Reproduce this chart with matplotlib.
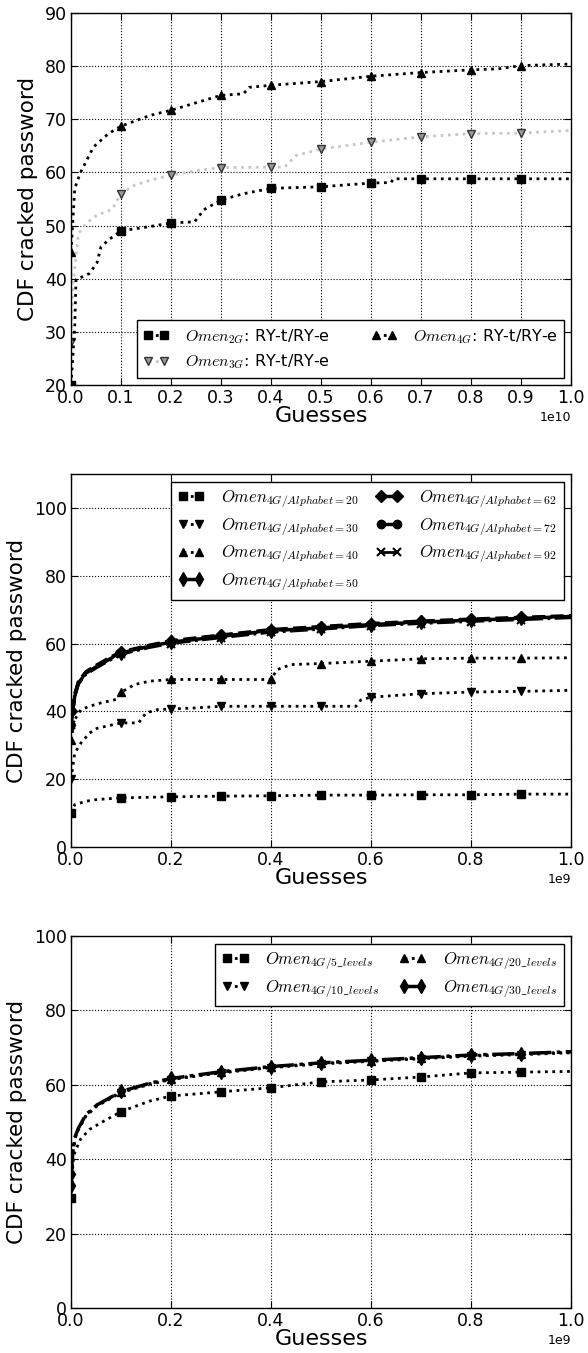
import numpy as np
import matplotlib
matplotlib.use("Agg")
import matplotlib.pyplot as plt

plt.rcParams['mathtext.fontset'] = 'cm'
plt.rcParams['font.family'] = ['DejaVu Sans']

# ---------------- Panel 1 (x in units of 1e10 guesses) ----------------
p1_x_2g = [0, 0.0075, 0.01, 0.037, 0.052, 0.06, 0.075, 0.1, 0.157, 0.2, 0.247, 0.266, 0.3, 0.345, 0.4, 0.5, 0.6, 0.64, 0.645, 0.7, 0.8, 0.9, 1.0]
p1_y_2g = [20, 31, 39.8, 41, 43, 46, 47.3, 49, 49.8, 50.5, 50.7, 53, 54.8, 56, 57, 57.3, 58, 58.1, 58.8, 58.8, 58.8, 58.8, 58.8]
p1_x_3g = [0, 0.004, 0.015, 0.03, 0.052, 0.082, 0.1, 0.127, 0.157, 0.2, 0.255, 0.3, 0.4, 0.427, 0.45, 0.5, 0.6, 0.7, 0.8, 0.9, 1.0]
p1_y_3g = [28, 39, 48.5, 50.4, 52, 53, 56, 57.6, 58.5, 59.5, 60.4, 60.9, 61, 61, 63.2, 64.4, 65.7, 66.7, 67.3, 67.4, 67.9]
p1_x_4g = [0, 0.0075, 0.019, 0.045, 0.075, 0.1, 0.157, 0.2, 0.3, 0.345, 0.356, 0.4, 0.5, 0.6, 0.7, 0.8, 0.855, 0.9, 1.0]
p1_y_4g = [45, 57, 60, 64.8, 67.3, 68.7, 70.7, 71.7, 74.5, 74.8, 76, 76.4, 77.1, 78.1, 78.8, 79.3, 79.5, 80.1, 80.4]
p1_labels = [r'$Omen_{2G}$: RY-t/RY-e', r'$Omen_{3G}$: RY-t/RY-e', r'$Omen_{4G}$: RY-t/RY-e']

# ---------------- Panel 2 (x in units of 1e9 guesses) ----------------
p2_x_a20 = [0, 0.0075, 0.03, 0.052, 0.1, 0.2, 0.3, 0.4, 0.5, 0.6, 0.7, 0.8, 0.9, 1.0]
p2_y_a20 = [10, 12.5, 13.5, 14, 14.5, 14.8, 15, 15.1, 15.3, 15.3, 15.4, 15.4, 15.6, 15.6]
p2_x_a30 = [0, 0.0075, 0.02, 0.037, 0.052, 0.082, 0.1, 0.135, 0.15, 0.172, 0.2, 0.247, 0.3, 0.4, 0.5, 0.57, 0.58, 0.6, 0.7, 0.8, 0.9, 1.0]
p2_y_a30 = [20, 27.7, 30.7, 33.6, 35, 36, 36.6, 36.6, 39.5, 40.5, 40.7, 41, 41.5, 41.5, 41.5, 41.5, 43.4, 44.2, 45.2, 45.7, 45.9, 46.2]
p2_x_a40 = [0, 0.0075, 0.02, 0.037, 0.06, 0.09, 0.1, 0.127, 0.157, 0.2, 0.3, 0.4, 0.412, 0.44, 0.5, 0.6, 0.7, 0.8, 0.9, 1.0]
p2_y_a40 = [31.5, 37.6, 40.5, 41.5, 42.5, 43.5, 45.6, 47.9, 48.9, 49.4, 49.4, 49.4, 52.3, 53.8, 54.1, 54.8, 55.5, 55.7, 55.7, 55.8]
p2_x_big = [0, 0.004, 0.0075, 0.015, 0.03, 0.052, 0.082, 0.1, 0.157, 0.2, 0.3, 0.4, 0.5, 0.6, 0.7, 0.8, 0.9, 1.0]
p2_y_a50 = [36, 40.5, 44.5, 48.4, 51.3, 53.3, 55.8, 57.2, 59.2, 60.4, 62.1, 63.8, 64.6, 65.6, 66.3, 66.9, 67.4, 68.0]
p2_y_a62 = [40, 41.0, 45.0, 48.8, 51.7, 53.7, 56.2, 57.5, 59.5, 60.8, 62.5, 64.1, 65.0, 65.9, 66.6, 67.2, 67.7, 68.2]
p2_y_a72 = [40, 40.8, 44.8, 48.6, 51.5, 53.5, 56.0, 57.3, 59.3, 60.6, 62.3, 63.9, 64.8, 65.7, 66.4, 67.0, 67.5, 68.1]
p2_y_a92 = [36, 40.0, 44.0, 48.0, 50.9, 52.9, 55.4, 56.8, 58.8, 60.0, 61.7, 63.3, 64.2, 65.2, 65.9, 66.5, 67.0, 67.6]
p2_labels = [r'$Omen_{4G/Alphabet=20}$', r'$Omen_{4G/Alphabet=30}$', r'$Omen_{4G/Alphabet=40}$',
             r'$Omen_{4G/Alphabet=50}$', r'$Omen_{4G/Alphabet=62}$', r'$Omen_{4G/Alphabet=72}$',
             r'$Omen_{4G/Alphabet=92}$']

# ---------------- Panel 3 (x in units of 1e9 guesses) ----------------
p3_x_l5 = [0, 0.004, 0.0075, 0.019, 0.037, 0.06, 0.1, 0.157, 0.2, 0.3, 0.4, 0.5, 0.6, 0.7, 0.8, 0.9, 1.0]
p3_y_l5 = [29.5, 39, 41.8, 45.4, 48, 49.8, 52.8, 55.6, 57, 58.1, 59.2, 60.8, 61.3, 62.1, 63.2, 63.4, 63.6]
p3_x_big = [0, 0.004, 0.0075, 0.015, 0.03, 0.052, 0.075, 0.1, 0.157, 0.2, 0.3, 0.4, 0.5, 0.6, 0.7, 0.8, 0.9, 1.0]
p3_y_l10 = [32, 41.8, 45.4, 48, 51.6, 54.3, 56, 57.9, 60.1, 61.4, 63.2, 64.6, 65.6, 66.3, 67, 67.7, 68.1, 68.6]
p3_y_l20 = [34, 42.0, 45.6, 48.2, 51.8, 54.5, 56.2, 58.1, 60.3, 61.6, 63.4, 64.8, 65.8, 66.5, 67.2, 67.9, 68.3, 68.8]
p3_y_l30 = [36, 42.2, 45.8, 48.4, 52.0, 54.6, 56.3, 58.2, 60.4, 61.7, 63.5, 64.9, 65.9, 66.6, 67.3, 68.0, 68.4, 68.9]
p3_labels = [r'$Omen_{4G/5\_levels}$', r'$Omen_{4G/10\_levels}$', r'$Omen_{4G/20\_levels}$', r'$Omen_{4G/30\_levels}$']

MS = 6
LW = 2.0


def mark_idx(x):
    x = np.asarray(x)
    return [i for i, v in enumerate(x) if abs(v * 10 - round(v * 10)) < 1e-9 and v < 0.95]


def plot_series(ax, x, y, scale, **kw):
    ax.plot(np.asarray(x) * scale, y, markevery=mark_idx(x), **kw)


def style_axes(ax, xmax, ylim, yticks, xticks):
    ax.set_xlim(0, xmax)
    ax.set_ylim(*ylim)
    ax.set_yticks(yticks)
    ax.set_xticks(xticks)
    ax.grid(True, color='black', linestyle=':', linewidth=0.8)
    ax.tick_params(direction='in', top=True, right=True, length=5, labelsize=12.5, pad=3)
    ax.xaxis.get_offset_text().set_fontsize(9)
    ax.set_xlabel('Guesses', fontsize=16, labelpad=-1)
    ax.set_ylabel('CDF cracked password', fontsize=15.5, labelpad=5)
    for s in ax.spines.values():
        s.set_linewidth(1.0)


fig = plt.figure(figsize=(5.88, 13.53), dpi=100)
W = 500 / 588
L = 71 / 588
LEGKW = dict(numpoints=2, handlelength=1.6, fancybox=False, edgecolor='black', framealpha=1)

# Panel 1
ax1 = fig.add_axes([L, (1353 - 385) / 1353, W, 372 / 1353])
s1 = 1e10
plot_series(ax1, p1_x_3g, p1_y_3g, s1, color='0.78', linestyle=':', linewidth=LW, marker='v',
            markersize=MS, markerfacecolor='0.6', markeredgecolor='0.2', label=p1_labels[1])
plot_series(ax1, p1_x_2g, p1_y_2g, s1, color='black', linestyle=':', linewidth=LW, marker='s',
            markersize=MS, label=p1_labels[0])
plot_series(ax1, p1_x_4g, p1_y_4g, s1, color='black', linestyle=':', linewidth=LW, marker='^',
            markersize=MS, label=p1_labels[2])
style_axes(ax1, 1e10, (20, 90), np.arange(20, 91, 10), np.arange(0, 1.01e10, 0.1e10))
h, l = ax1.get_legend_handles_labels()
order = [1, 0, 2]
ax1.legend([h[i] for i in order], [l[i] for i in order], loc='lower right', ncol=2, fontsize=11.5,
           borderaxespad=0.45, columnspacing=2.6, handletextpad=1.0, labelspacing=0.45, **LEGKW)

# Panel 2
ax2 = fig.add_axes([L, (1353 - 847) / 1353, W, 373 / 1353])
s2 = 1e9
plot_series(ax2, p2_x_a20, p2_y_a20, s2, color='black', linestyle=':', linewidth=LW, marker='s', markersize=MS, label=p2_labels[0])
plot_series(ax2, p2_x_a30, p2_y_a30, s2, color='black', linestyle=':', linewidth=LW, marker='v', markersize=MS, label=p2_labels[1])
plot_series(ax2, p2_x_a40, p2_y_a40, s2, color='black', linestyle=':', linewidth=LW, marker='^', markersize=MS, label=p2_labels[2])
plot_series(ax2, p2_x_big, p2_y_a50, s2, color='black', linestyle='--', linewidth=2.5, marker='d', markersize=MS + 1, label=p2_labels[3])
plot_series(ax2, p2_x_big, p2_y_a62, s2, color='black', linestyle='--', linewidth=2.5, marker='D', markersize=MS, label=p2_labels[4])
plot_series(ax2, p2_x_big, p2_y_a72, s2, color='black', linestyle='--', linewidth=2.5, marker='o', markersize=MS, label=p2_labels[5])
plot_series(ax2, p2_x_big, p2_y_a92, s2, color='black', linestyle='-.', linewidth=2.0, marker='x', markersize=MS, markeredgewidth=1.5, label=p2_labels[6])
style_axes(ax2, 1e9, (0, 110), np.arange(0, 101, 20), np.arange(0, 1.01e9, 0.2e9))
ax2.legend(loc='upper right', ncol=2, fontsize=12, borderaxespad=0.45, columnspacing=1.0,
           handletextpad=1.0, labelspacing=0.35, **LEGKW)

# Panel 3
ax3 = fig.add_axes([L, 45 / 1353, W, 372 / 1353])
plot_series(ax3, p3_x_big, p3_y_l10, s2, color='black', linestyle=':', linewidth=LW, marker='v', markersize=MS, label=p3_labels[1])
plot_series(ax3, p3_x_big, p3_y_l20, s2, color='black', linestyle=':', linewidth=LW, marker='^', markersize=MS, label=p3_labels[2])
plot_series(ax3, p3_x_big, p3_y_l30, s2, color='black', linestyle='-.', linewidth=2.5, marker='d', markersize=MS + 1, label=p3_labels[3])
plot_series(ax3, p3_x_l5, p3_y_l5, s2, color='black', linestyle=':', linewidth=LW, marker='s', markersize=MS, label=p3_labels[0])
style_axes(ax3, 1e9, (0, 100), np.arange(0, 101, 20), np.arange(0, 1.01e9, 0.2e9))
h, l = ax3.get_legend_handles_labels()
order = [3, 0, 1, 2]
ax3.legend([h[i] for i in order], [l[i] for i in order], loc='upper right', ncol=2, fontsize=12,
           borderaxespad=0.45, columnspacing=1.2, handletextpad=1.0, labelspacing=0.35, **LEGKW)

fig.savefig('out.png', dpi=100, facecolor='white')
